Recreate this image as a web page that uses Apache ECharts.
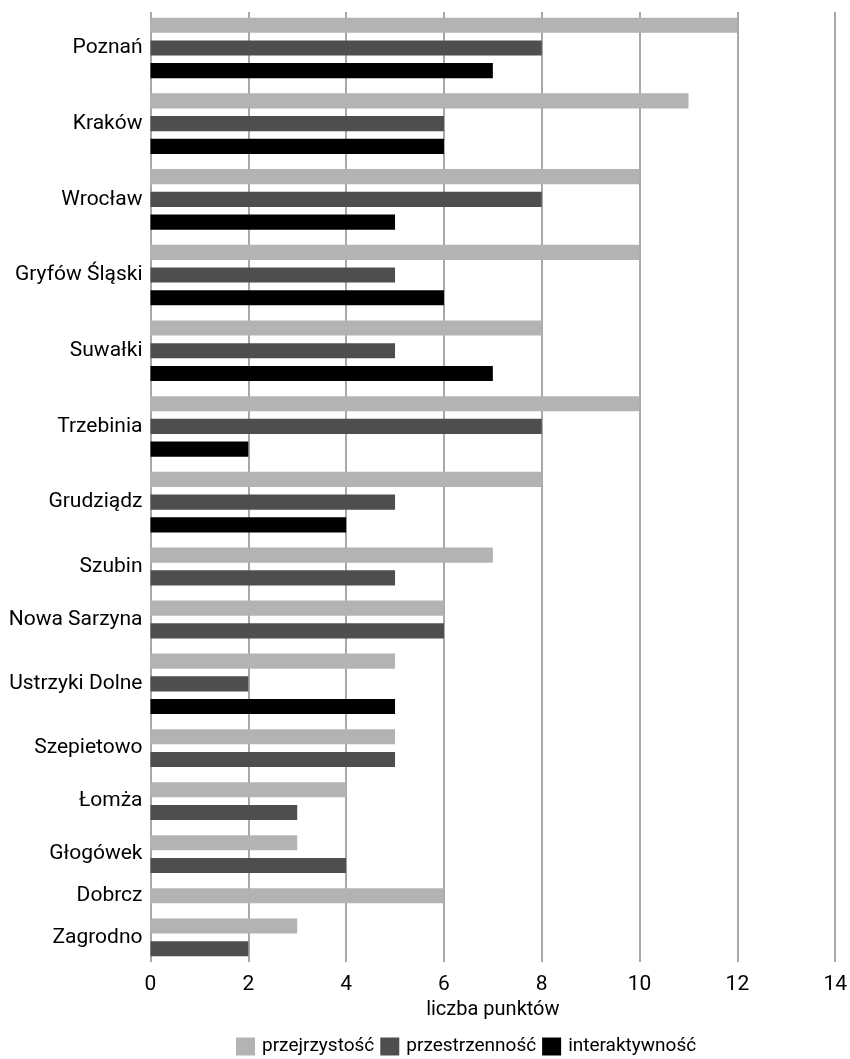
<!DOCTYPE html>
<html>
<head>
<meta charset="utf-8">
<script src="https://cdn.jsdelivr.net/npm/echarts@6/dist/echarts.min.js"></script>
<style>
  html, body { margin: 0; padding: 0; background: #fff; }
  #chart { width: 850px; height: 1059px; }
</style>
</head>
<body>
<div id="chart"></div>
<script>
// ---- data ----
const cities = ['Poznań', 'Kraków', 'Wrocław', 'Gryfów Śląski', 'Suwałki', 'Trzebinia', 'Grudziądz',
  'Szubin', 'Nowa Sarzyna', 'Ustrzyki Dolne', 'Szepietowo', 'Łomża', 'Głogówek', 'Dobrcz', 'Zagrodno'];
const seriesNames = ['przejrzystość', 'przestrzenność', 'interaktywność'];
const przejrzystosc  = [12, 11, 10, 10, 8, 10, 8, 7, 6, 5, 5, 4, 3, 6, 3];
const przestrzennosc = [8, 6, 8, 5, 5, 8, 5, 5, 6, 2, 5, 3, 4, null, 2];
const interaktywnosc = [7, 6, 5, 6, 7, 2, 4, null, null, 5, null, null, null, null, null];
const xTicks = [0, 2, 4, 6, 8, 10, 12, 14];

// ---- layout in row units (bars only occupy rows for present values) ----
const BAR = 2, GAP_IN = 1, GAP_OUT = 2, EDGE = 0.75;
const allValues = [przejrzystosc, przestrzennosc, interaktywnosc];
const barData = [[], [], []];
const centers = [];
let pos = 0;
cities.forEach((c, i) => {
  const present = [0, 1, 2].filter(s => allValues[s][i] !== null);
  const start = pos;
  present.forEach((s, k) => {
    barData[s].push([allValues[s][i], pos, c]);
    pos += BAR;
    if (k < present.length - 1) pos += GAP_IN;
  });
  centers.push((start + pos) / 2);
  if (i < cities.length - 1) pos += GAP_OUT;
});
const total = pos;

const colors = ['#b3b3b3', '#4e4e4e', '#000000'];
const font = 'Roboto, "Noto Sans", sans-serif';

function renderBar(params, api) {
  const v = api.value(0), y = api.value(1);
  const a = api.coord([0, y]);
  const b = api.coord([v, y + BAR]);
  return {
    type: 'rect',
    shape: { x: a[0], y: Math.min(a[1], b[1]), width: b[0] - a[0], height: Math.abs(b[1] - a[1]) },
    style: api.style()
  };
}

const chart = echarts.init(document.getElementById('chart'), null, { renderer: 'canvas' });
chart.setOption({
  animation: false,
  textStyle: { fontFamily: font },
  grid: { left: 150.5, right: 13.5, top: 12, bottom: 97, containLabel: false },
  legend: {
    data: seriesNames,
    left: 236, top: 1037, padding: 0,
    icon: 'rect', itemWidth: 19, itemHeight: 18, itemGap: 6,
    textStyle: { fontFamily: font, fontSize: 19, color: '#000', padding: [0, 0, 0, 2] }
  },
  xAxis: {
    type: 'value', min: 0, max: 14, interval: 2,
    name: 'liczba punktów', nameLocation: 'middle', nameGap: 37,
    nameTextStyle: { fontFamily: font, fontSize: 20, color: '#000' },
    axisLine: { show: false },
    axisTick: { show: false },
    axisLabel: { fontFamily: font, fontSize: 21, color: '#000', margin: 12,
      formatter: v => xTicks.includes(v) ? String(v) : '' },
    splitLine: { show: true, lineStyle: { color: '#a8a8a8', width: 2 } }
  },
  yAxis: {
    type: 'value', inverse: true, min: -EDGE, max: total + EDGE,
    axisLine: { show: false },
    axisTick: { show: false },
    splitLine: { show: false },
    axisLabel: {
      customValues: centers,
      fontFamily: font, fontSize: 21, color: '#000', margin: 8,
      formatter: v => {
        let best = 0, d = Infinity;
        centers.forEach((c, i) => { if (Math.abs(c - v) < d) { d = Math.abs(c - v); best = i; } });
        return cities[best];
      }
    }
  },
  series: seriesNames.map((n, s) => ({
    name: n,
    type: 'custom',
    renderItem: renderBar,
    itemStyle: { color: colors[s] },
    encode: { x: 0, y: 1 },
    data: barData[s],
    z: 3
  }))
});
</script>
</body>
</html>
